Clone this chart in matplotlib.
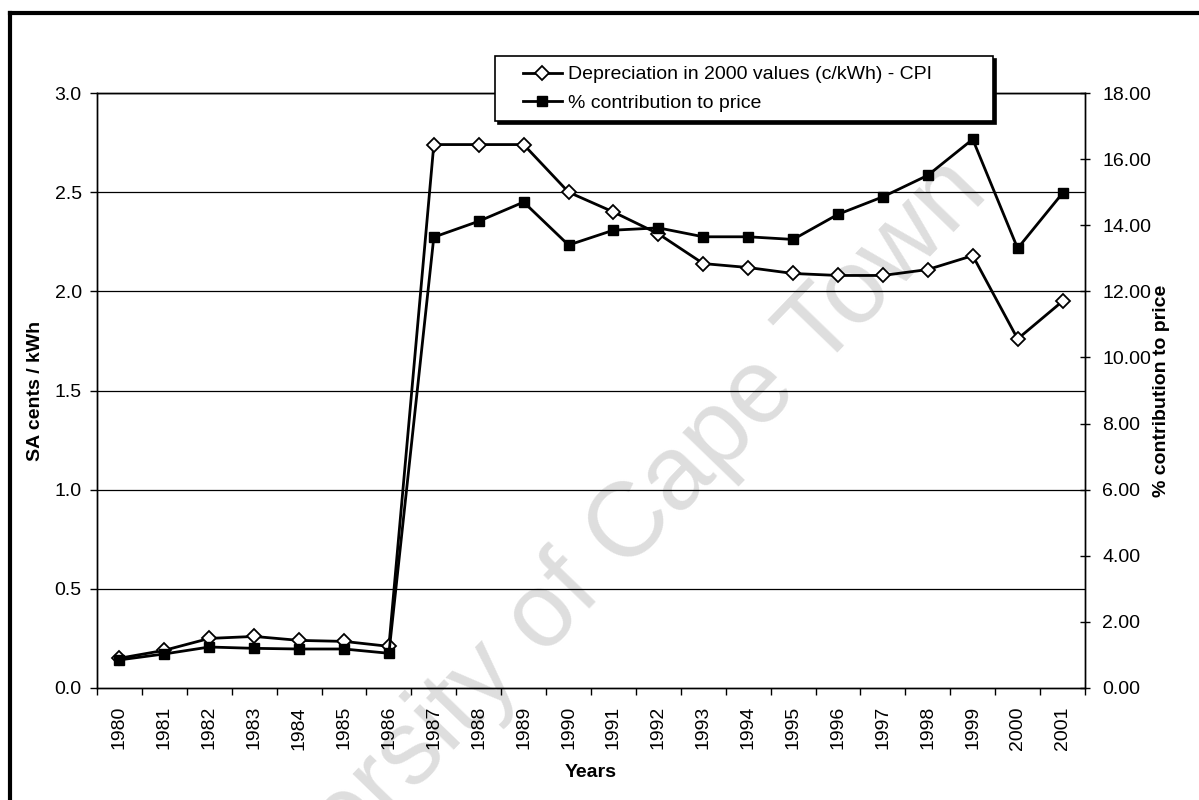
import numpy as np
import matplotlib
matplotlib.use("Agg")
import matplotlib.pyplot as plt
from matplotlib.lines import Line2D
from matplotlib.legend_handler import HandlerLine2D

plt.rcParams['font.family'] = ['Liberation Sans', 'DejaVu Sans']

years = [str(y) for y in range(1980, 2002)]
# depreciation in 2000 values (c/kWh) - CPI, left axis
depreciation = [0.15, 0.19, 0.25, 0.26, 0.24, 0.235, 0.21, 2.74, 2.74, 2.74, 2.50,
                2.40, 2.29, 2.14, 2.12, 2.09, 2.08, 2.08, 2.11, 2.18, 1.76, 1.95]
# % contribution to price, right axis
contribution = [0.85, 1.03, 1.24, 1.20, 1.18, 1.18, 1.05, 13.64, 14.12, 14.70, 13.40,
                13.85, 13.92, 13.65, 13.65, 13.57, 14.33, 14.86, 15.51, 16.60, 13.30, 14.97]

left_ticks = [0.0, 0.5, 1.0, 1.5, 2.0, 2.5, 3.0]
right_ticks = [0, 2, 4, 6, 8, 10, 12, 14, 16, 18]

fig = plt.figure(figsize=(11.99, 8), dpi=100)
ax = fig.add_axes([97 / 1199, 1 - 688 / 800, 988 / 1199, 595 / 800])
ax.patch.set_visible(False)
ax2 = ax.twinx()

x = np.arange(len(years))

# gridlines
for t in left_ticks[1:]:
    ax.axhline(t, color='black', lw=0.9, zorder=1)

l1, = ax.plot(x, depreciation, color='black', lw=2.0, marker='D', markersize=7,
              markerfacecolor='white', markeredgecolor='black', markeredgewidth=1.3,
              zorder=3)
l2, = ax2.plot(x, contribution, color='black', lw=2.0, marker='s', markersize=7,
               markerfacecolor='black', markeredgecolor='black', zorder=3)

ax.set_xlim(-0.5, len(years) - 0.5)
ax.set_ylim(0, 3)
ax2.set_ylim(0, 18)

ax.set_yticks(left_ticks)
ax.set_yticklabels([f"{t:.1f}" for t in left_ticks], fontsize=14)
ax2.set_yticks(right_ticks)
ax2.set_yticklabels([f"{t:.2f}" for t in right_ticks], fontsize=14)

ax.set_xticks(x)
ax.set_xticklabels(years, rotation=90, fontsize=14)
ax.set_xticks(np.arange(-0.5, len(years)), minor=True)
ax.tick_params(axis='x', which='major', length=0, pad=13)
ax.tick_params(axis='x', which='minor', length=5, width=1, direction='out')
ax.tick_params(axis='y', length=5, width=1, direction='out', pad=6)
ax2.tick_params(axis='y', length=7, width=1, direction='inout', pad=9)

for a in (ax, ax2):
    for s in a.spines.values():
        s.set_linewidth(1.0)
        s.set_color('black')

ax.set_ylabel('SA cents / kWh', fontsize=14, fontweight='bold')
ax.yaxis.set_label_coords(-0.054, 0.5)
ax2.set_ylabel('% contribution to price', fontsize=14, fontweight='bold')
ax2.yaxis.set_label_coords(1.069, 0.5)
ax.set_xlabel('Years', fontsize=14, fontweight='bold')
ax.xaxis.set_label_coords(0.5, -0.128)

leg = fig.legend([l1, l2], ['Depreciation in 2000 values (c/kWh) - CPI', '% contribution to price'],
                 loc='upper left', bbox_to_anchor=(495 / 1199, 0.5, 498 / 1199, 1 - 56 / 800 - 0.5),
                 mode='expand', borderaxespad=0, fontsize=14, frameon=True, fancybox=False,
                 edgecolor='black', framealpha=1, handlelength=2.95, handletextpad=0.28,
                 labelspacing=0.55, borderpad=0.5,
                 handler_map={l1: HandlerLine2D(xpad=0.93), l2: HandlerLine2D(xpad=0.93)},
                 shadow={'color': 'black', 'alpha': 1, 'ox': 2, 'oy': -2})
leg.get_frame().set_linewidth(1.2)

# scanned-page frame
fig.add_artist(Line2D([10 / 1199, 10 / 1199], [0, 1 - 13 / 800], color='black', lw=3,
                      transform=fig.transFigure))
fig.add_artist(Line2D([10 / 1199, 1], [1 - 13 / 800, 1 - 13 / 800], color='black', lw=3,
                      transform=fig.transFigure))

# watermark
fig.text(0.48, 0.27, 'University of Cape Town', rotation=46, fontsize=76,
         color='#dedede', ha='center', va='center', rotation_mode='anchor', zorder=-1)

fig.savefig('out.png', dpi=100)
